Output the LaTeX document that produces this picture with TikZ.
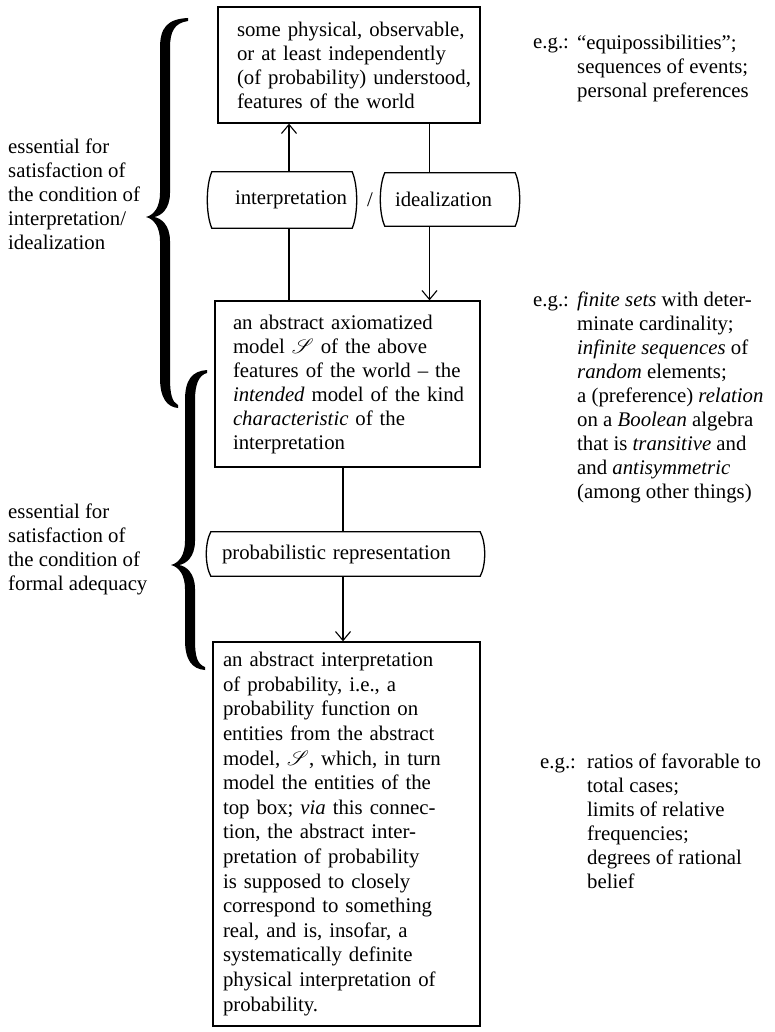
\documentclass[tikz,border=0pt]{standalone}
\usepackage{fontspec}
\setmainfont{Liberation Serif}
\usepackage{mathrsfs}
\usetikzlibrary{arrows.meta}
\newcommand\bigbrace[7]{% #1 xv, #2 ytop, #3 ytip, #4 ybot, #5 xtopend, #6 xbotend, #7 xtip
\fill (#5,#2)
 .. controls ({#1+2},{#2+1}) and ({#1-5},{#2+10}) .. ({#1-5},{#2+30})
 -- ({#1-5},{#3-24})
 .. controls ({#1-5},{#3-10}) and ({#7+8},{#3-2}) .. (#7,#3)
 .. controls ({#7+8},{#3+2}) and ({#1-5},{#3+10}) .. ({#1-5},{#3+24})
 -- ({#1-5},{#4-30})
 .. controls ({#1-5},{#4-10}) and ({#1+2},{#4-1}) .. (#6,#4)
 -- (#6,{#4-3})
 .. controls ({#1+7},{#4-6}) and ({#1+5},{#4-14}) .. ({#1+5},{#4-30})
 -- ({#1+5},{#3+24})
 .. controls ({#1+5},{#3+8}) and ({#7+15},{#3+1}) .. ({#7+8},#3)
 .. controls ({#7+15},{#3-1}) and ({#1+5},{#3-8}) .. ({#1+5},{#3-24})
 -- ({#1+5},{#2+30})
 .. controls ({#1+5},{#2+14}) and ({#1+9},{#2+5}) .. (#5,{#2+3})
 -- cycle;}
\begin{document}
\begin{tikzpicture}[x=1pt,y=-1pt,
 every node/.style={font=\fontsize{20.8}{24}\selectfont},
 box/.style={draw, line width=1.3pt, align=left, inner xsep=0pt, inner ysep=0pt},
 pbox/.style={align=left, inner xsep=0pt, inner ysep=0pt},
 border/.style={line width=1.3pt},
 conn/.style={line width=1.1pt},
 arr/.style={conn, -{Straight Barb[length=9pt,width=15pt]}},
 txt/.style={align=left, inner sep=0pt, anchor=north west},
 lbl/.style={inner sep=0pt, anchor=base west},
]
\useasboundingbox (0,0) rectangle (775,1032);

% main boxes
\node[box, text width=262pt, minimum height=116pt] (top) at (349,65)
 {\leftskip=19pt some physical, observable,\\ or at least independently\\ (of probability) understood,\\ features of the world\par};
\node[box, text width=265pt, minimum height=166pt] (mid) at (347.5,384)
 {\leftskip=18pt an abstract axiomatized\\ model $\mathscr{S}$ of the above\\ features of the world – the\\ \textit{intended} model of the kind\\ \textit{characteristic} of the\\ interpretation\par};
\node[box, text width=267pt, minimum height=384pt, font=\fontsize{20.8}{24.6}\selectfont] (bot) at (346.5,834)
 {\leftskip=10pt an abstract interpretation\\ of probability, i.e., a\\ probability function on\\ entities from the abstract\\ model, $\mathscr{S}$, which, in turn\\ model the entities of the\\ top box; \textit{via} this connec-\\ tion, the abstract inter-\\ pretation of probability\\ is supposed to closely\\ correspond to something\\ real, and is, insofar, a\\ systematically definite\\ physical interpretation of\\ probability.\par};

% curved-side boxes
\node[pbox, text width=140pt, minimum height=56pt] (interp) at (282,200) {\leftskip=23pt interpretation\par};
\node (slash) at (370,200) {/};
\node[pbox, text width=130pt, minimum height=53pt] (ideal) at (450,199.5) {\leftskip=10pt idealization\par};
\node[pbox, text width=269pt, minimum height=44pt] (prob) at (345.5,554) {\leftskip=11pt probabilistic representation\par};

\foreach \n/\h in {interp/14, ideal/13, prob/11}{
 \draw[border] (\n.north west) -- (\n.north east)
   .. controls +(6,\h) and +(6,-\h) .. (\n.south east)
   -- (\n.south west)
   .. controls +(-6,-\h) and +(-6,\h) .. (\n.north west) -- cycle;
}

% connectors
\coordinate (xa) at (289,0);
\coordinate (xb) at (429.5,0);
\coordinate (xc) at (343,0);
\draw[arr] (interp.north -| xa) -- (top.south -| xa);
\draw[conn] (interp.south -| xa) -- (mid.north -| xa);
\draw[conn] (top.south -| xb) -- (ideal.north -| xb);
\draw[arr] (ideal.south -| xb) -- (mid.north -| xb);
\draw[conn] (mid.south -| xc) -- (prob.north -| xc);
\draw[arr] (prob.south -| xc) -- (bot.north -| xc);

% braces
\bigbrace{165}{18}{217}{408}{188}{178}{146}
\bigbrace{190}{370}{565}{670}{207}{205}{171}

% left texts
\node[txt] (left1) at (8,138) {\rule{0pt}{15pt}essential for\\ satisfaction of\\ the condition of\\ interpretation/\\ idealization};
\node[txt] (left2) at (8,503) {\rule{0pt}{15pt}essential for\\ satisfaction of\\ the condition of\\ formal adequacy};

% right texts
\node[lbl] (eg1) at (533,49) {e.g.:};
\node[txt] (ex1) at (577,34) {\rule{0pt}{15pt}“equipossibilities”;\\ sequences of events;\\ personal preferences};
\node[lbl] (eg2) at (533,306) {e.g.:};
\node[txt] (ex2) at (577,291) {\rule{0pt}{15pt}\textit{finite sets} with deter-\\ minate cardinality;\\ \textit{infinite sequences} of\\ \textit{random} elements;\\ a (preference) \textit{relation}\\ on a \textit{Boolean} algebra\\ that is \textit{transitive} and\\ and \textit{antisymmetric}\\ (among other things)};
\node[lbl] (eg3) at (540,768) {e.g.:};
\node[txt] (ex3) at (587,753) {\rule{0pt}{15pt}ratios of favorable to\\ total cases;\\ limits of relative\\ frequencies;\\ degrees of rational\\ belief};
\end{tikzpicture}
\end{document}
